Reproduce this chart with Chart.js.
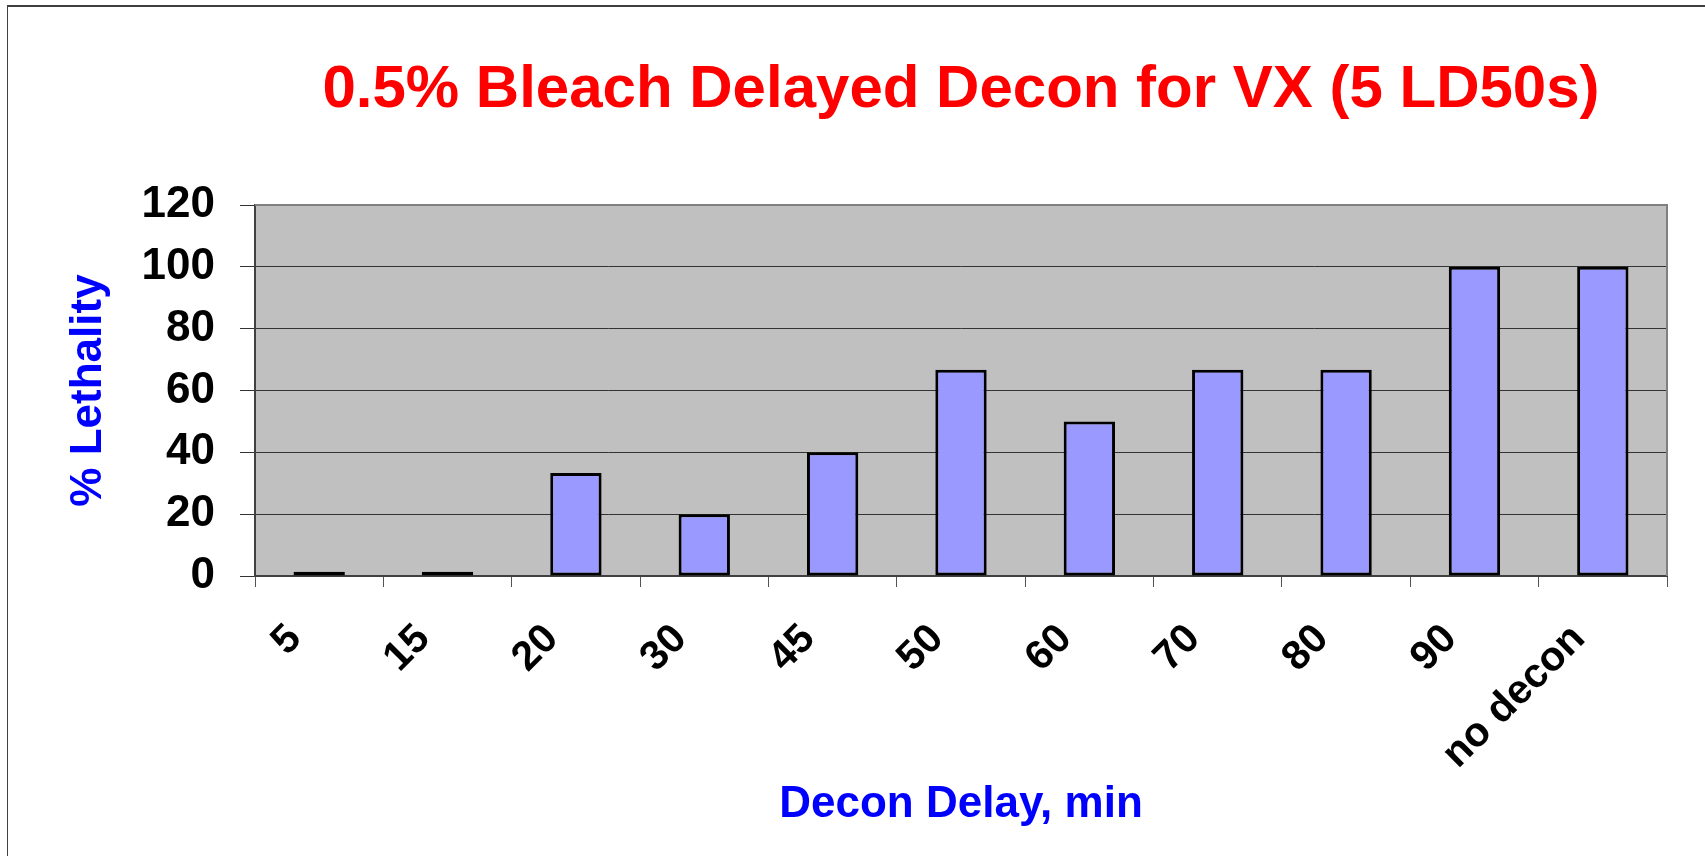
<!DOCTYPE html>
<html lang="en">
  <head>
    <meta charset="UTF-8" />
    <title>0.5% Bleach Delayed Decon for VX</title>
    <script src="https://cdn.jsdelivr.net/npm/chart.js"></script>
    <style>
      body {
        margin: 0;
        background: #ffffff;
        font-family: "Liberation Sans", Arial, sans-serif;
      }
      .wrap {
        position: relative;
        width: 1705px;
        height: 856px;
        overflow: hidden;
      }
      /* outer frame, only top and left edges visible */
      .frame {
        position: absolute;
        left: 7px;
        top: 5px;
        width: 2000px;
        height: 2000px;
        border-top: 2px solid #404040;
        border-left: 1px solid #404040;
      }
      canvas {
        position: absolute;
        left: 0;
        top: 0;
      }
    </style>
  </head>
  <body>
    <div class="wrap">
      <div class="frame"></div>
      <canvas id="decon" width="1705" height="856"></canvas>
    </div>

    <script>
      const delays = ["5", "15", "20", "30", "45", "50", "60", "70", "80", "90", "no decon"];
      const lethality = [1.4, 1.4, 33.3, 20, 40, 66.7, 50, 66.7, 66.7, 100, 100];
      const yTicks = [0, 20, 40, 60, 80, 100, 120];

      const FONT = "'Liberation Sans', Arial, sans-serif";

      // grey plot area with a thin frame
      const plotArea = {
        id: "plotArea",
        beforeDraw(chart) {
          const { ctx, chartArea: a } = chart;
          ctx.save();
          ctx.fillStyle = "#c0c0c0";
          ctx.fillRect(a.left, a.top, a.right - a.left, a.bottom - a.top);
          ctx.restore();
        },
        afterDraw(chart) {
          const { ctx, chartArea: a } = chart;
          ctx.save();
          ctx.strokeStyle = "#808080";
          ctx.lineWidth = 2;
          ctx.beginPath();
          ctx.moveTo(a.left, a.top);
          ctx.lineTo(a.right, a.top);
          ctx.lineTo(a.right, a.bottom);
          ctx.stroke();
          ctx.restore();
        },
      };

      new Chart(document.getElementById("decon"), {
        type: "bar",
        data: {
          labels: delays,
          datasets: [
            {
              data: lethality,
              backgroundColor: "#9999ff",
              borderColor: "#000000",
              borderWidth: 3,
              borderSkipped: false,
              barPercentage: 0.4,
              categoryPercentage: 1.0,
            },
          ],
        },
        options: {
          responsive: false,
          animation: false,
          layout: { padding: { left: 0, right: 38, top: 0, bottom: 0 } },
          plugins: {
            legend: { display: false },
            tooltip: { enabled: false },
            title: {
              display: true,
              fullSize: false,
              text: "0.5% Bleach Delayed Decon for VX (5 LD50s)",
              color: "#ff0000",
              font: { family: FONT, size: 60, weight: "bold" },
              padding: { top: 54, bottom: 79 },
            },
          },
          scales: {
            x: {
              afterFit(scale) {
                scale.height = 280;
              },
              grid: {
                offset: true,
                drawOnChartArea: false,
                drawTicks: true,
                tickLength: 11,
                color: "#555555",
              },
              border: { color: "#404040", width: 2 },
              ticks: {
                color: "#000000",
                font: { family: FONT, size: 41, weight: "bold" },
                minRotation: 45,
                maxRotation: 45,
                autoSkip: false,
                padding: 28,
                labelOffset: -24,
              },
              title: {
                display: true,
                text: "Decon Delay, min",
                color: "#0000ff",
                font: { family: FONT, size: 44, weight: "bold" },
                padding: { top: 0, bottom: 25 },
              },
            },
            y: {
              min: 0,
              max: 120,
              afterFit(scale) {
                scale.width = 255;
              },
              afterBuildTicks(scale) {
                scale.ticks = yTicks.map((v) => ({ value: v }));
              },
              grid: {
                color: "#333333",
                lineWidth: 1,
                drawTicks: true,
                tickLength: 15,
              },
              border: { color: "#404040", width: 2 },
              ticks: {
                color: "#000000",
                font: { family: FONT, size: 44, weight: "bold" },
                padding: 25,
              },
              title: {
                display: true,
                text: "% Lethality",
                color: "#0000ff",
                font: { family: FONT, size: 44, weight: "bold" },
                padding: { top: 62, bottom: 0 },
              },
            },
          },
        },
        plugins: [plotArea],
      });
    </script>
  </body>
</html>
